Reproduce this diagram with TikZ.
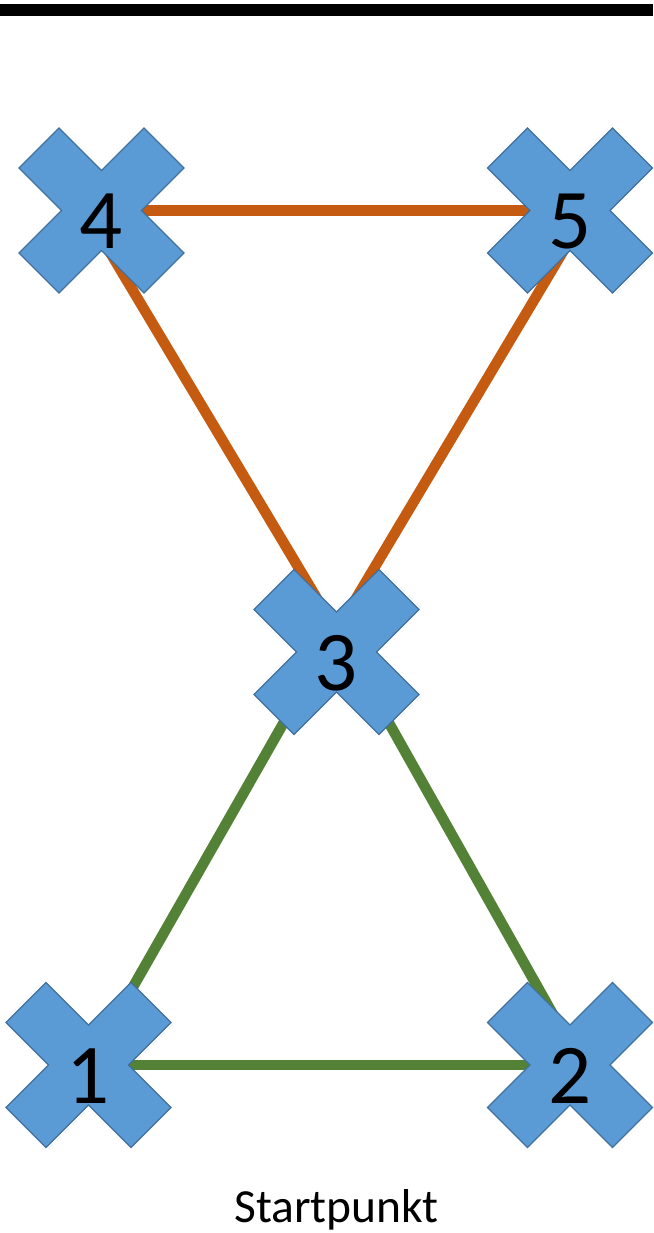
\documentclass[tikz,border=0pt]{standalone}
\usepackage{fontspec}
\setmainfont{Carlito}
\definecolor{crossfill}{HTML}{5B9BD5}
\definecolor{crossline}{HTML}{41719C}
\definecolor{orangeline}{HTML}{C55A11}
\definecolor{greenline}{HTML}{538135}
\tikzset{
  crossshape/.style={fill=crossfill, draw=crossline, line width=1.3pt, line join=miter},
  xcross/.pic={
    \path[crossshape] (-42.5,-82.5) -- (0,-40) -- (42.5,-82.5) -- (82.5,-42.5) -- (40,0)
      -- (82.5,42.5) -- (42.5,82.5) -- (0,40) -- (-42.5,82.5) -- (-82.5,42.5)
      -- (-40,0) -- (-82.5,-42.5) -- cycle;
  },
  numlabel/.style={anchor=base, inner sep=0pt, font=\fontsize{85}{85}\selectfont},
  orangecon/.style={draw=orangeline, line width=10.5pt},
  greencon/.style={draw=greenline, line width=10.5pt},
  caption/.style={anchor=base, inner sep=0pt, font=\fontsize{47.5}{47.5}\selectfont}
}
\begin{document}
\begin{tikzpicture}[x=1pt, y=-1pt]
\useasboundingbox (0,0) rectangle (653,1233);
\fill[black] (0,4) rectangle (653,16.3);
% cross centres
\coordinate (c4) at (101.5,210.5);
\coordinate (c5) at (570,210.5);
\coordinate (c3) at (336.5,652);
\coordinate (c1) at (88.5,1065);
\coordinate (c2) at (570,1065);
% connector end points hidden under the crosses
\coordinate (q4) at (85,210.5);
\coordinate (q5) at (587.5,210.5);
\coordinate (p3l) at (324,652);
\coordinate (p3r) at (349,652);
\coordinate (q2) at (581.5,1065);
% connectors
\draw[orangecon] (c4) -- (c5);
\draw[orangecon] (q4) -- (p3r);
\draw[orangecon] (q5) -- (p3l);
\draw[greencon] (c1) -- (c2);
\draw[greencon] (c1) -- (p3l);
\draw[greencon] (p3r) -- (q2);
% crosses
\pic at (c4) {xcross};
\pic at (c5) {xcross};
\pic at (c3) {xcross};
\pic at (c1) {xcross};
\pic at (c2) {xcross};
% labels
\node[numlabel] (n4) at (101.5,249) {4};
\node[numlabel] (n5) at (570,249) {5};
\node[numlabel] (n3) at (336.5,690.5) {3};
\node[numlabel] (n1) at (88.5,1103.5) {1};
\node[numlabel] (n2) at (570,1103.5) {2};
\node[caption] (start) at (336.5,1222) {Startpunkt};
\end{tikzpicture}
\end{document}
